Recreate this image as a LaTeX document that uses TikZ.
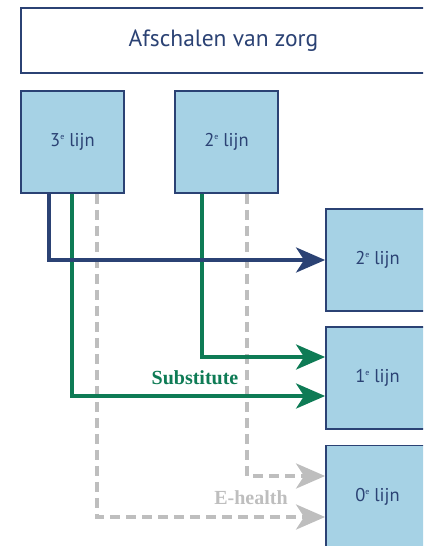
\documentclass[tikz,border=0pt]{standalone}
\usepackage{fontspec}
\setmainfont{PT Sans}
\newfontfamily\labelfont{Liberation Serif}
\usepackage{xcolor}
\usepackage{tikz}
\usetikzlibrary{arrows.meta}

\definecolor{boxblue}{HTML}{A6D2E5}
\definecolor{navy}{HTML}{2B4274}
\definecolor{zorggreen}{HTML}{0E7B55}
\definecolor{ehgray}{HTML}{BEBEBE}

\newcommand{\eord}{\raisebox{0.75ex}{\fontsize{8}{8}\selectfont e}}

\begin{document}
\begin{tikzpicture}[
    x=1pt, y=-1pt,
    level/.style={rectangle, draw=navy, line width=1.8pt, fill=boxblue, minimum width=103pt, minimum height=102pt, text=navy, font=\fontsize{18.5}{22}\selectfont},
    header/.style={rectangle, draw=navy, line width=1.8pt, fill=white, minimum width=405pt, minimum height=65pt, text=navy, font=\fontsize{23.5}{26}\selectfont},
    flow/.style={line width=4pt, -{Stealth[length=29pt, width=25pt, inset=8pt]}},
    label/.style={font=\labelfont\bfseries\fontsize{20}{22}\selectfont}
]
\path[use as bounding box, clip] (0,0) rectangle (423,546);

% Header
\node[header] (top) at (223.5,40.5) {Afschalen van zorg};

% Source levels
\node[level] (l3) at (72.5,142) {3\eord{} lijn};
\node[level] (l2) at (226.5,142) {2\eord{} lijn};

% Target levels
\node[level] (r2) at (377.5,260) {2\eord{} lijn};
\node[level] (r1) at (377.5,378) {1\eord{} lijn};
\node[level] (r0) at (377.5,496.5) {0\eord{} lijn};

% E-health (dashed gray)
\draw[flow, ehgray, dash pattern=on 10pt off 6pt] ([xshift=77pt]l3.south west) |- ([yshift=-20.5pt]r0.west);
\draw[flow, ehgray, dash pattern=on 10pt off 6pt] ([xshift=73pt]l2.south west) |- ([yshift=20.5pt]r0.west);
\node[label, text=ehgray] (eh) at (251,498) {E-health};

% Substitute (green)
\draw[flow, zorggreen] ([xshift=52pt]l3.south west) |- ([yshift=-18pt]r1.west);
\draw[flow, zorggreen] ([xshift=28pt]l2.south west) |- ([yshift=21pt]r1.west);
\node[label, text=zorggreen] (sub) at (195,378) {Substitute};

% Afschalen (navy)
\draw[flow, navy] ([xshift=29pt]l3.south west) |- (r2.west);

\end{tikzpicture}
\end{document}
